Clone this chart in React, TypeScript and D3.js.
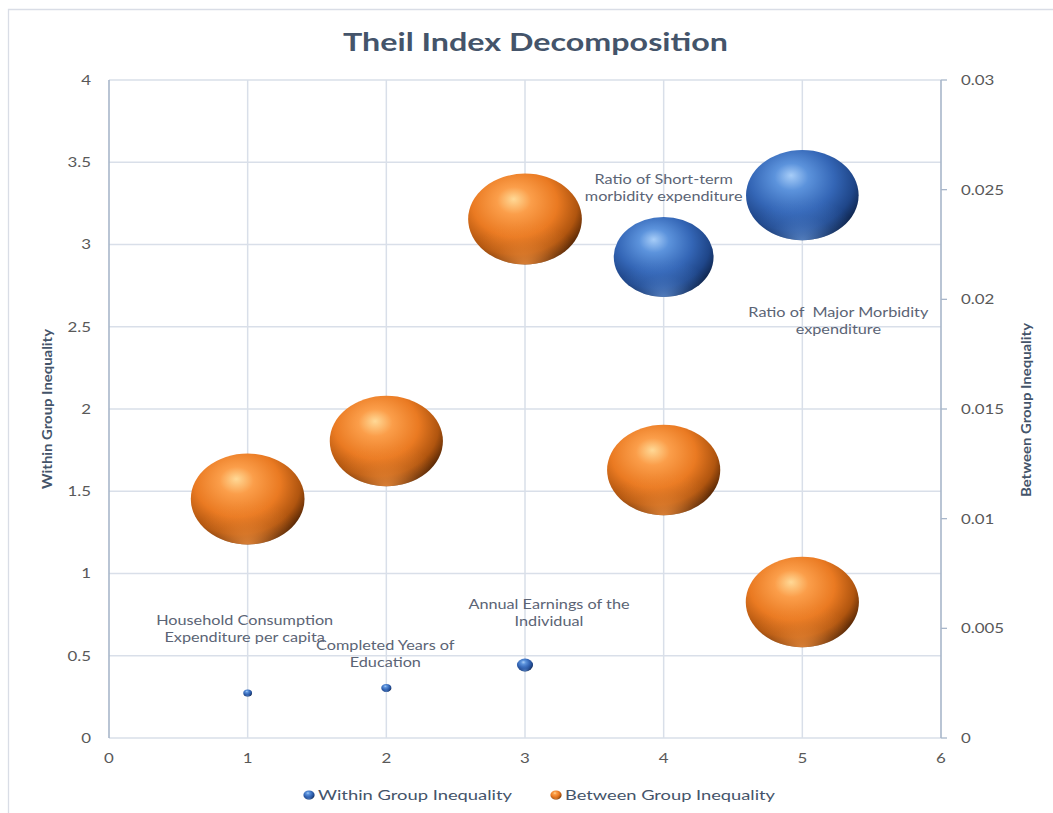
import React, { useEffect } from "react";
import * as d3 from "d3";

// ---------- data ----------
const categories = [1, 2, 3, 4, 5];
const pointLabels = [
  ["Household Consumption", "Expenditure per capita"],
  ["Completed Years of", "Education"],
  ["Annual Earnings of the", "Individual"],
  ["Ratio of Short-term", "morbidity expenditure"],
  ["Ratio of  Major Morbidity", "expenditure"],
];
const withinValues = [0.274, 0.304, 0.444, 2.924, 3.3];
const withinSizes = [0.6, 0.8, 2.0, 77, 98];
const betweenValues = [0.0109, 0.01354, 0.02366, 0.01222, 0.0062];
const betweenSizes = [100, 99, 100, 99, 99];
const xTicks = [0, 1, 2, 3, 4, 5, 6];
const leftTicks = [0, 0.5, 1, 1.5, 2, 2.5, 3, 3.5, 4];
const rightTicks = [0, 0.005, 0.01, 0.015, 0.02, 0.025, 0.03];
const seriesNames = ["Within Group Inequality", "Between Group Inequality"];

// ---------- layout (pixels) ----------
const W = 1053;
const H = 813;
const K = 1.25; // horizontal stretch of the original picture
const u = (px: number) => px / K;
const labelOffsets = [
  [-3, -73],
  [-1, -43],
  [24, -61],
  [0, -78],
  [36, 117],
];

const FONT = "Lato, 'Open Sans', sans-serif";

export default function App() {
  useEffect(() => {
    document.body.style.margin = "0";
  }, []);

  const x = d3.scaleLinear().domain([0, 6]).range([u(109), u(941)]);
  const yL = d3.scaleLinear().domain([0, 4]).range([738, 80]);
  const yR = d3.scaleLinear().domain([0, 0.03]).range([738, 80]);
  const r = d3.scaleSqrt().domain([0, 100]).range([0, 45.5]);

  const gridColor = "#d9dfe9";
  const axisColor = "#a8b6ca";
  const tickText = "#595959";
  const labelText = "#5b6475";
  const titleColor = "#44546a";

  const sphere = (key: string, cx: number, cy: number, rr: number, kind: string) => (
    <g key={key}>
      <circle cx={cx} cy={cy} r={rr} fill={`url(#main-${kind})`} />
      <circle cx={cx} cy={cy} r={rr} fill={`url(#rim-${kind})`} />
    </g>
  );

  return (
    <svg
      width={W}
      height={H}
      viewBox={`0 0 ${u(W)} ${H}`}
      preserveAspectRatio="none"
      style={{ display: "block", background: "#ffffff" }}
    >
      <defs>
        <radialGradient id="main-blue" cx="0.42" cy="0.36" r="0.68" fx="0.4" fy="0.28">
          <stop offset="0" stopColor="#a7cdf8" />
          <stop offset="0.22" stopColor="#5c93dc" />
          <stop offset="0.55" stopColor="#3466b6" />
          <stop offset="0.8" stopColor="#1f4689" />
          <stop offset="1" stopColor="#0b1d3e" />
        </radialGradient>
        <radialGradient id="rim-blue" cx="0.5" cy="1.02" r="0.5">
          <stop offset="0" stopColor="#6fa0e6" stopOpacity="0.75" />
          <stop offset="0.6" stopColor="#4a7fcf" stopOpacity="0.25" />
          <stop offset="1" stopColor="#4a7fcf" stopOpacity="0" />
        </radialGradient>
        <radialGradient id="main-orange" cx="0.42" cy="0.36" r="0.68" fx="0.4" fy="0.28">
          <stop offset="0" stopColor="#ffd996" />
          <stop offset="0.22" stopColor="#fb9e4a" />
          <stop offset="0.55" stopColor="#ea7a22" />
          <stop offset="0.8" stopColor="#b0550f" />
          <stop offset="1" stopColor="#3e1a02" />
        </radialGradient>
        <radialGradient id="rim-orange" cx="0.5" cy="1.02" r="0.5">
          <stop offset="0" stopColor="#ff9a45" stopOpacity="0.8" />
          <stop offset="0.6" stopColor="#f08a35" stopOpacity="0.25" />
          <stop offset="1" stopColor="#f08a35" stopOpacity="0" />
        </radialGradient>
      </defs>

      {/* outer frame */}
      <rect
        x={u(8.5)}
        y={9.5}
        width={u(W + 50)}
        height={H + 50}
        fill="none"
        stroke="#d9dde6"
        strokeWidth={1.3}
        vectorEffect="non-scaling-stroke"
      />

      {/* title */}
      <text
        x={u(535.5)}
        y={51}
        textAnchor="middle"
        fontFamily={FONT}
        fontWeight="bold"
        fontSize={24}
        fill={titleColor}
        textLength={u(385)}
        lengthAdjust="spacingAndGlyphs"
      >
        Theil Index Decomposition
      </text>

      {/* horizontal gridlines */}
      {leftTicks.map((t) => (
        <line
          key={"hg" + t}
          x1={x(0)}
          x2={x(6)}
          y1={yL(t)}
          y2={yL(t)}
          stroke={gridColor}
          strokeWidth={1.5}
          vectorEffect="non-scaling-stroke"
        />
      ))}
      {/* vertical gridlines */}
      {xTicks.slice(1, 6).map((t) => (
        <line
          key={"vg" + t}
          x1={x(t)}
          x2={x(t)}
          y1={yL(4)}
          y2={yL(0)}
          stroke={gridColor}
          strokeWidth={1.5}
          vectorEffect="non-scaling-stroke"
        />
      ))}

      {/* left axis line */}
      <line
        x1={x(0)}
        x2={x(0)}
        y1={yL(4)}
        y2={yL(0)}
        stroke={axisColor}
        strokeWidth={1.6}
        vectorEffect="non-scaling-stroke"
      />
      {/* right axis line + ticks */}
      <line
        x1={x(6)}
        x2={x(6)}
        y1={yR(0.03)}
        y2={yR(0)}
        stroke={axisColor}
        strokeWidth={1.6}
        vectorEffect="non-scaling-stroke"
      />
      {rightTicks.map((t) => (
        <line
          key={"rt" + t}
          x1={x(6)}
          x2={x(6) + u(6)}
          y1={yR(t)}
          y2={yR(t)}
          stroke={axisColor}
          strokeWidth={1.3}
          vectorEffect="non-scaling-stroke"
        />
      ))}

      {/* left tick labels */}
      {leftTicks.map((t) => (
        <text
          key={"lt" + t}
          x={u(91)}
          y={yL(t)}
          dy="0.36em"
          textAnchor="end"
          fontFamily={FONT}
          fontSize={13.5}
          fill={tickText}
        >
          {d3.format("~g")(t)}
        </text>
      ))}
      {/* right tick labels */}
      {rightTicks.map((t) => (
        <text
          key={"rl" + t}
          x={u(961)}
          y={yR(t)}
          dy="0.36em"
          textAnchor="start"
          fontFamily={FONT}
          fontSize={13.5}
          fill={tickText}
        >
          {d3.format("~g")(t)}
        </text>
      ))}
      {/* x tick labels */}
      {xTicks.map((t) => (
        <text
          key={"xt" + t}
          x={x(t)}
          y={758}
          dy="0.36em"
          textAnchor="middle"
          fontFamily={FONT}
          fontSize={13.5}
          fill={tickText}
        >
          {t}
        </text>
      ))}

      {/* axis titles */}
      <text
        transform={`translate(${u(47)},${409}) rotate(-90)`}
        textAnchor="middle"
        dy="0.35em"
        fontFamily={FONT}
        fontWeight="bold"
        fontSize={11}
        fill={titleColor}
        textLength={160}
        lengthAdjust="spacingAndGlyphs"
      >
        Within Group Inequality
      </text>
      <text
        transform={`translate(${u(1026)},${410}) rotate(-90)`}
        textAnchor="middle"
        dy="0.35em"
        fontFamily={FONT}
        fontWeight="bold"
        fontSize={11}
        fill={titleColor}
        textLength={174}
        lengthAdjust="spacingAndGlyphs"
      >
        Between Group Inequality
      </text>

      {/* bubbles: between group (right axis) */}
      {categories.map((c, i) =>
        sphere("b" + i, x(c), yR(betweenValues[i]), r(betweenSizes[i]), "orange")
      )}
      {/* bubbles: within group (left axis) */}
      {categories.map((c, i) =>
        sphere("w" + i, x(c), yL(withinValues[i]), r(withinSizes[i]), "blue")
      )}

      {/* data labels */}
      {categories.map((c, i) => (
        <text
          key={"dl" + i}
          fontFamily={FONT}
          fontSize={13}
          fill={labelText}
          textAnchor="middle"
          style={{ whiteSpace: "pre" }}
        >
          {pointLabels[i].map((line, j) => (
            <tspan
              key={j}
              x={x(c) + u(labelOffsets[i][0])}
              y={yL(withinValues[i]) + labelOffsets[i][1] + j * 17.5}
              dy="0.36em"
            >
              {line}
            </tspan>
          ))}
        </text>
      ))}

      {/* legend */}
      {seriesNames.map((name, i) => {
        const mx = i === 0 ? 309 : 556;
        return (
          <g key={"lg" + i}>
            {sphere("lm" + i, u(mx), 795, 4.5, i === 0 ? "blue" : "orange")}
            <text
              x={u(mx + 9)}
              y={795}
              dy="0.36em"
              fontFamily={FONT}
              fontSize={13.5}
              fill={titleColor}
              textLength={u(i === 0 ? 194 : 210)}
              lengthAdjust="spacingAndGlyphs"
            >
              {name}
            </text>
          </g>
        );
      })}
    </svg>
  );
}
